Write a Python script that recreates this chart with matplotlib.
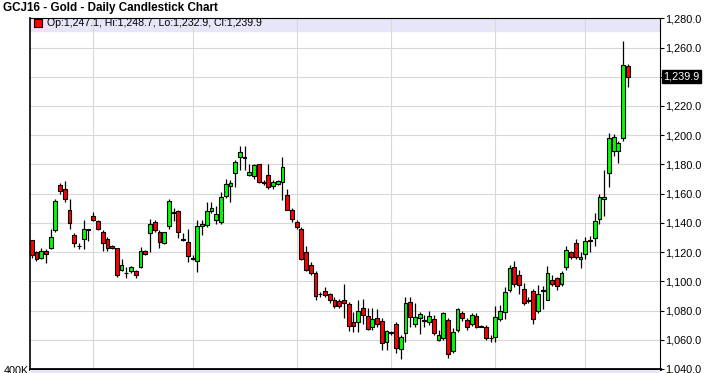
import matplotlib.pyplot as plt
from matplotlib.patches import Rectangle

# Daily OHLC values for GCJ16 (oldest first)
opens = [1128, 1120, 1116, 1121, 1123, 1135, 1166, 1163.5, 1148.5, 1132,
         1124.5, 1129, 1135.5, 1144.5, 1141, 1134, 1129, 1124.5, 1122.5, 1108,
         1106, 1107, 1107, 1109.5, 1121, 1133, 1140.5, 1134, 1126, 1138,
         1147.5, 1148, 1129, 1127, 1116, 1114, 1138, 1138.5, 1148, 1142,
         1140.5, 1158.5, 1165, 1174, 1185, 1185, 1173, 1172, 1180, 1168,
         1173, 1165, 1166.5, 1168, 1159, 1149, 1140.5, 1136, 1120, 1111,
         1106, 1091.5, 1093.5, 1091, 1087.5, 1086.5, 1087.5, 1084.5, 1072, 1072,
         1081.5, 1076.5, 1069, 1075, 1073, 1058.5, 1065, 1070.5, 1054, 1064.5,
         1086, 1070.5, 1075, 1073.5, 1072, 1074, 1060, 1061.5, 1073.5, 1052,
         1066.5, 1078.5, 1073.5, 1070.5, 1076.5, 1069.5, 1069, 1061.5, 1062, 1074,
         1079, 1094, 1109.5, 1104.5, 1095, 1087, 1093.5, 1080, 1094, 1087.5,
         1101, 1102, 1098, 1109.5, 1120, 1126, 1115, 1118.5, 1128.5, 1129.5,
         1142.5, 1156, 1174, 1189.5, 1189.5, 1197.8, 1247.1]
highs = [1128.5, 1121, 1123, 1122, 1135.5, 1156, 1167, 1168.5, 1156, 1133,
         1126, 1142, 1136, 1147.5, 1142, 1135, 1130, 1125, 1123, 1115,
         1110, 1110.5, 1108, 1123.5, 1121.5, 1142.5, 1142, 1135, 1134, 1156,
         1150, 1149, 1133, 1135.5, 1118, 1142, 1142, 1154.5, 1154, 1151.5,
         1161, 1170, 1169.5, 1183, 1192.5, 1192.5, 1180, 1180.5, 1180.5, 1169,
         1180, 1169, 1169, 1185, 1163, 1150, 1142, 1137, 1124, 1113.5,
         1107, 1093, 1096, 1092, 1089, 1088, 1098, 1086, 1079, 1087,
         1088, 1082, 1081.5, 1081, 1075, 1067, 1066, 1072, 1063, 1089,
         1089, 1085, 1079, 1077, 1080, 1077, 1067, 1079, 1075, 1068,
         1082, 1080, 1075, 1078.5, 1078, 1070, 1070, 1063, 1083, 1083.5,
         1096, 1111, 1114, 1108, 1099, 1089, 1094.5, 1097.5, 1097, 1110.5,
         1104, 1103, 1107, 1124, 1121, 1129, 1120, 1130.5, 1131, 1146.5,
         1160, 1176, 1201.5, 1201, 1196, 1264.7, 1248.7]
lows = [1116, 1114, 1115, 1112.5, 1122, 1134, 1160, 1154.5, 1136, 1123.5,
        1122, 1122, 1127.5, 1141, 1135, 1120.5, 1121, 1122, 1103, 1107,
        1102, 1106, 1102.5, 1109, 1118, 1120, 1134, 1123, 1125.5, 1135.5,
        1141.5, 1129.5, 1127.5, 1113.5, 1114.5, 1106.5, 1132, 1137, 1147, 1139,
        1139, 1157, 1154, 1164.5, 1176, 1176.5, 1172, 1170, 1167, 1166,
        1163.5, 1163, 1166, 1155.5, 1148.5, 1140.5, 1136, 1114.5, 1107, 1104.5,
        1087.5, 1089, 1089, 1085.5, 1082, 1082, 1075, 1066, 1065.5, 1065.5,
        1071, 1066.5, 1067, 1069, 1053, 1053, 1063, 1051, 1047, 1058.5,
        1069, 1069, 1064, 1069, 1070, 1063, 1059, 1060, 1047.5, 1051,
        1065, 1073, 1067, 1069.5, 1068, 1068.5, 1060, 1058.5, 1058.5, 1073,
        1074.5, 1093, 1096, 1091.5, 1083.5, 1085, 1071, 1078, 1081, 1087,
        1097, 1094, 1097, 1108, 1115, 1115, 1109, 1115.5, 1120, 1124.5,
        1139.5, 1145, 1164.5, 1185.5, 1181, 1196.2, 1232.9]
closes = [1118, 1115, 1121, 1119, 1130, 1155, 1162, 1156, 1140, 1126.5,
          1124, 1136, 1135, 1142, 1135.5, 1126.5, 1123, 1123, 1104, 1111,
          1105.5, 1109.5, 1104.5, 1120.5, 1119, 1139.5, 1135, 1127, 1133.5, 1155,
          1147, 1133.5, 1128.5, 1117, 1115.5, 1138, 1139.5, 1148, 1150.5, 1146,
          1157.5, 1166.5, 1167, 1181.5, 1188.5, 1184.5, 1174.5, 1179.5, 1168, 1167.5,
          1164.5, 1168, 1168.5, 1178, 1149, 1142.5, 1137.5, 1115.5, 1108, 1106,
          1090, 1091, 1090.5, 1087, 1083, 1083, 1085, 1069.5, 1069.5, 1079.5,
          1077, 1067.5, 1074.5, 1070.5, 1058, 1066, 1064.5, 1054.5, 1062, 1085,
          1075.5, 1075.5, 1077.5, 1073, 1076.5, 1064.5, 1063, 1078, 1050.5, 1065,
          1081, 1075, 1069, 1077, 1069, 1069, 1061, 1061, 1075.5, 1079.5,
          1093, 1109, 1098.5, 1097.5, 1085.5, 1086.5, 1074, 1091, 1093.5, 1106,
          1098, 1096.5, 1106, 1121.5, 1116.5, 1116.5, 1116.5, 1127.5, 1127.5, 1141.5,
          1157.5, 1158, 1198, 1199, 1194.5, 1248, 1239.9]

# first trading day of each month (candle index) -> vertical grid lines
month_starts = [13, 34, 56, 76, 98, 117]
price_ticks = list(range(1040, 1281, 20))
last_price = closes[-1]

fig = plt.figure(figsize=(7.05, 3.73), dpi=100)
ax = fig.add_axes([30 / 705, 1 - 369 / 373, 630 / 705, 350.7 / 373])

x = list(range(len(opens)))
body_bottom = [min(o, c) for o, c in zip(opens, closes)]
body_height = [max(abs(c - o), 0.4) for o, c in zip(opens, closes)]
colors = ['#00FF00' if c >= o else '#FF0000' for o, c in zip(opens, closes)]

ax.vlines(x, lows, highs, color='black', linewidth=0.9, zorder=2)
ax.bar(x, body_height, bottom=body_bottom, width=0.8, color=colors,
       edgecolor='black', linewidth=0.8, zorder=3)

ax.set_xlim(-0.36, 132.8)
ax.set_ylim(1040, 1280)

# header band with the OHLC of the last day
ax.axhspan(1271.5, 1280, color='#E6E6F8', zorder=0.2)
ax.plot([0.0127], [0.9866], marker='s', ms=5.5, mfc='#FF0000', mec='black', mew=0.8,
        transform=ax.transAxes, clip_on=False, zorder=4)
ax.text(0.027, 0.9855, 'Op:1,247.1, Hi:1,248.7, Lo:1,232.9, Cl:1,239.9',
        transform=ax.transAxes, fontsize=7.6, va='center', ha='left',
        family='Liberation Sans', zorder=4)

ax.set_xticks(month_starts)
ax.set_xticklabels([])
ax.tick_params(axis='x', length=0)
ax.yaxis.tick_right()
ax.set_yticks(price_ticks)
ax.set_yticklabels(['' if v == 1240 else f'{v:,.1f}' for v in price_ticks],
                   fontsize=7.8, family='Liberation Sans')
ax.tick_params(axis='y', length=3, width=0.8, pad=1, color='black')
ax.grid(True, color='#D8D8D8', linewidth=0.8)
ax.set_axisbelow(True)

for side in ['top', 'right']:
    ax.spines[side].set_linewidth(0.8)
ax.spines['left'].set_linewidth(1.2)
ax.spines['bottom'].set_linewidth(2)

# last price marker on the axis
ax.text(1.0056, last_price, f'{last_price:,.1f}', transform=ax.get_yaxis_transform(),
        fontsize=7.8, color='white', va='center', ha='left', family='Liberation Sans',
        bbox=dict(facecolor='black', edgecolor='black', pad=1.0), clip_on=False, zorder=5)

fig.text(3 / 705, 1 - 8 / 373, 'GCJ16 - Gold - Daily Candlestick Chart',
         fontsize=8.4, fontweight='bold', family='Liberation Sans', va='center', ha='left')

# volume pane cut off at the bottom
fig.patches.append(Rectangle((30 / 705, 0), 630 / 705, 3 / 373, transform=fig.transFigure,
                             facecolor='#E6E6F8', edgecolor='none', figure=fig))
fig.text(29 / 705, 1 - 371 / 373, '400K', fontsize=7.8, family='Liberation Sans',
         va='center', ha='right')

fig.savefig('out.png', dpi=100)
